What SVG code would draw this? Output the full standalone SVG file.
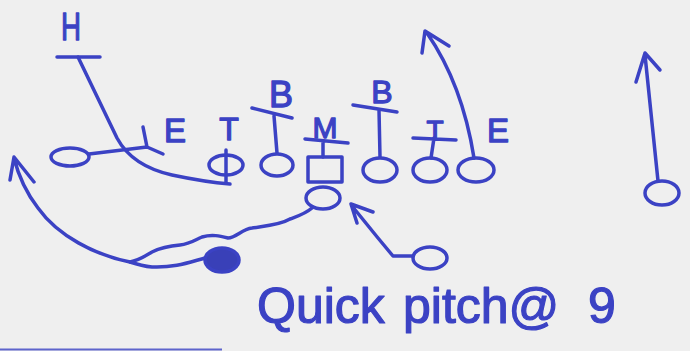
<svg xmlns="http://www.w3.org/2000/svg" width="690" height="351" viewBox="0 0 690 351">
  <defs>
    <style>
      .ink { fill: none; stroke: #3b42c4; stroke-width: 3.5; stroke-linecap: round; stroke-linejoin: round; }
      .lbl { fill: #3b42c4; stroke: #3b42c4; stroke-width: 1.3; stroke-linejoin: round; font-family: "Liberation Sans", Arial, sans-serif; text-anchor: middle; }
      .note { fill: #3b42c4; stroke: #3b42c4; stroke-width: 1.2; stroke-linejoin: round; font-family: "Liberation Sans", Arial, sans-serif; font-size: 50px; }
    </style>
  </defs>
  <rect width="690" height="351" fill="#efefef"/>

  <!-- defenders (letters with block bars) -->
  <g id="def-H">
    <text class="lbl" x="71" y="40" font-size="38" textLength="20" lengthAdjust="spacingAndGlyphs">H</text>
    <path class="ink" d="M57,57 L100,57"/>
  </g>
  <g id="def-E-left"><text class="lbl" x="175" y="142" font-size="33">E</text></g>
  <g id="def-T-left"><text class="lbl" x="229" y="140" font-size="32">T</text></g>
  <g id="def-B-left">
    <text class="lbl" x="281" y="107" font-size="36">B</text>
    <path class="ink" d="M252,108 L292,118 M274,116 L277,153"/>
  </g>
  <g id="def-M">
    <text class="lbl" x="325" y="138" font-size="30">M</text>
    <path class="ink" d="M305,139 L348,143 M323,141 L323,157"/>
  </g>
  <g id="def-B-right">
    <text class="lbl" x="382" y="103" font-size="32">B</text>
    <path class="ink" d="M353,105 L397,112 M379,110 L380,157"/>
  </g>
  <g id="def-T-right">
    <text class="lbl" x="435" y="140" font-size="28">T</text>
    <path class="ink" d="M413,138 L456,140 M434,138 L431,158"/>
  </g>
  <g id="def-E-right"><text class="lbl" x="498" y="142" font-size="33">E</text></g>

  <!-- offense -->
  <g id="off-left-end"><ellipse class="ink" cx="70" cy="157" rx="19" ry="9"/></g>
  <g id="off-left-tackle">
    <ellipse class="ink" cx="226" cy="165" rx="17" ry="10"/>
    <path class="ink" d="M226,150 L226,182"/>
  </g>
  <g id="off-left-guard"><ellipse class="ink" cx="277" cy="165" rx="16" ry="11"/></g>
  <g id="off-center"><rect class="ink" x="308" y="157" width="34" height="25"/></g>
  <g id="off-right-guard"><ellipse class="ink" cx="380" cy="170" rx="17" ry="12"/></g>
  <g id="off-right-tackle"><ellipse class="ink" cx="430" cy="170" rx="17" ry="12"/></g>
  <g id="off-right-end"><ellipse class="ink" cx="476" cy="170" rx="18" ry="12"/></g>
  <g id="off-wide-receiver"><ellipse class="ink" cx="662" cy="193" rx="17" ry="12"/></g>
  <g id="off-qb"><ellipse class="ink" cx="323" cy="198" rx="17" ry="11"/></g>
  <g id="off-ball-carrier"><ellipse cx="222" cy="260" rx="17" ry="12" fill="#3940b8" stroke="#3b42c4" stroke-width="3.5"/></g>
  <g id="off-back"><ellipse class="ink" cx="430" cy="258" rx="17" ry="11"/></g>

  <!-- connectors -->
  <g id="connectors">
    <path class="ink" d="M78,57 L117,138 Q132,166 172,175 Q205,182 230,184"/>
    <path class="ink" d="M89,154 L147,147 M143,127 L147,147 L163,154"/>
    <path class="ink" d="M474,158 C468,120 456,75 427,33 M422,53 L425,31 L449,46"/>
    <path class="ink" d="M658,181 L645,55 M636,82 L645,53 L660,70"/>
    <path class="ink" d="M312,208 C305,214 298,216 290,219 C280,225 265,226 252,228 C242,229 236,238 228,238 C220,236 212,234 202,237 C195,240 190,244 180,245 C168,246 160,248 152,252 C145,256 140,260 130,262"/>
    <path class="ink" d="M205,258 C190,262 175,268 152,267 C142,266 136,264 130,262 C95,255 58,236 38,208 C28,195 19,178 14,158 M10,180 L14,157 L34,182"/>
    <path class="ink" d="M413,256 L393,256 L378,238 L352,206 M357,223 L351,204 L373,212"/>
  </g>

  <g id="caption">
    <text class="note" y="323"><tspan x="257">Quick</tspan> <tspan x="403">pitch@</tspan> <tspan x="588">9</tspan></text>
  </g>
  <path d="M0,349.5 L222,349.5" stroke="#3b42c4" stroke-width="2" opacity="0.8"/>
</svg>
